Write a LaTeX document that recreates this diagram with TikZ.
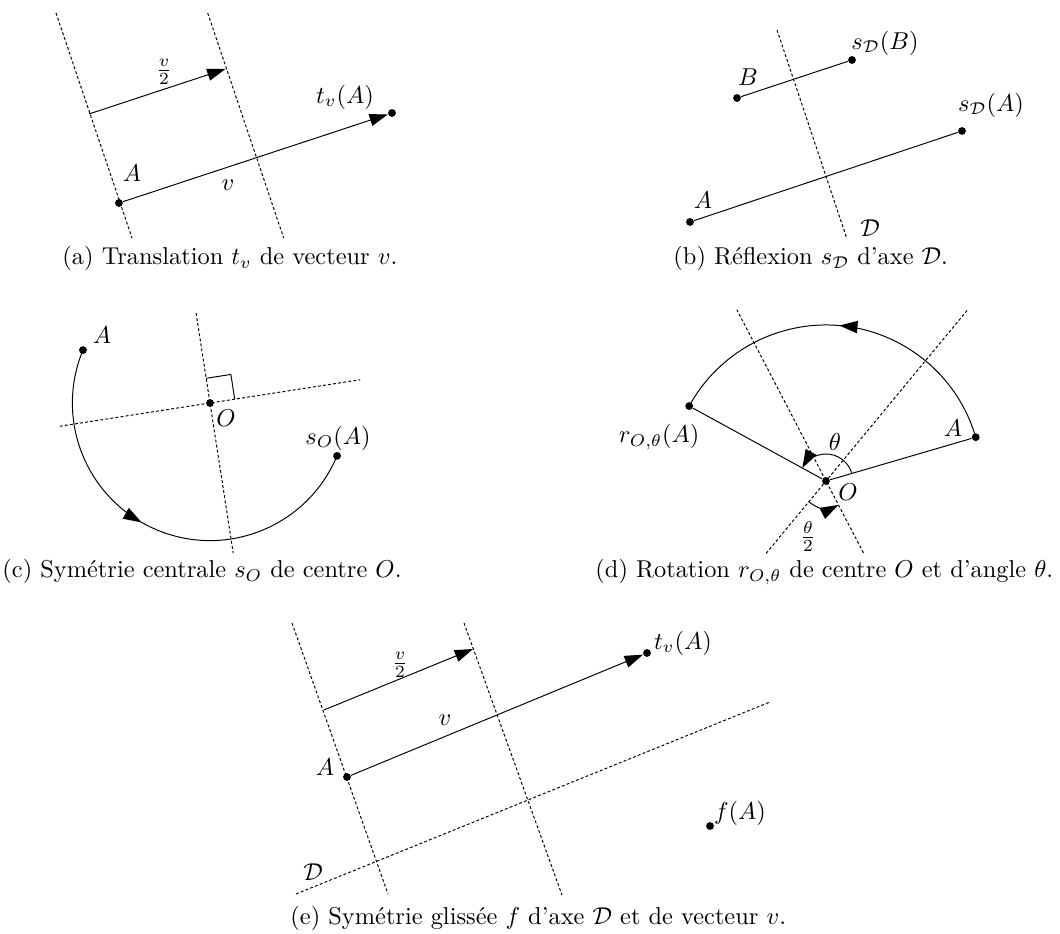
\documentclass[tikz,border=0pt]{standalone}
\usepackage{amsmath,amssymb}
\usepackage{tikz}
\usetikzlibrary{arrows.meta}
\usetikzlibrary{decorations.markings}

\tikzset{
  pnt/.style={circle, fill, inner sep=0pt, minimum size=3.2pt},
  axisline/.style={dash pattern=on 1.2pt off 0.9pt},
  vecarrow/.style={-{Triangle[length=7.5pt,width=5pt]}},
  midarrow/.style={postaction={decorate, decoration={markings,
    mark=at position #1 with {\arrow{Triangle[length=7.5pt,width=5pt]}}}}},
  caption/.style={anchor=base west, inner sep=0pt}
}

\begin{document}
\begin{tikzpicture}[x=0.41pt, y=0.41pt]
\useasboundingbox (0,0) rectangle (1060,934);

% (a)
\node[pnt] (a-A) at (119,731) {};
\node[pnt] (a-tA) at (392,821) {};
\coordinate (a-P) at (89,820);
\coordinate (a-Q) at (225.5,865);
\draw[axisline] (56,921) -- (132,696);
\draw[axisline] (207.7,921) -- (283.7,696);
\draw[vecarrow] (a-A) -- (a-tA);
\draw[vecarrow] (a-P) -- (a-Q);
\node (a-lA) at (132,761) {$A$};
\node (a-lt) at (345,837) {$t_v(A)$};
\node (a-lv) at (228,749) {$v$};
\node (a-lh) at (164,862) {$\frac{v}{2}$};
\node[caption] (a-cap) at (62,669) {(a) Translation $t_v$ de vecteur $v$.};

% (b)
\draw[axisline] (777,904) -- (847,695);
\node[pnt] (b-B) at (737,836) {};
\node[pnt] (b-sB) at (852,874) {};
\node[pnt] (b-A) at (690,712) {};
\node[pnt] (b-sA) at (962,803) {};
\draw (b-B) -- (b-sB);
\draw (b-A) -- (b-sA);
\node (b-lB) at (748,857) {$B$};
\node (b-lsB) at (885,891) {$s_{\mathcal{D}}(B)$};
\node (b-lsA) at (991,829) {$s_{\mathcal{D}}(A)$};
\node (b-lA) at (703,734) {$A$};
\node (b-lD) at (870,706) {$\mathcal{D}$};
\node[caption] (b-cap) at (673,669) {(b) Réflexion $s_{\mathcal{D}}$ d'axe $\mathcal{D}$.};

% (c)
\begin{scope}[shift={(210,531)}]
\node[pnt] (c-O) at (0,0) {};
\node[pnt] (c-A) at (157.4:137.6) {};
\node[pnt] (c-sA) at (-22.6:137.6) {};
\draw[axisline] (188.8:152) -- (8.8:152);
\draw[axisline] (98.8:91) -- (-81.2:152);
\draw (8.8:25) -- ++(98.8:25) -- (98.8:25);
\draw[midarrow=0.46] (c-A.center) arc[start angle=157.4, end angle=337.4, radius=137.6];
\node (c-lA) at (-108,68) {$A$};
\node (c-lO) at (16,-15) {$O$};
\node (c-lsA) at (128,-35) {$s_O(A)$};
\end{scope}
\node[caption] (c-cap) at (2,356) {(c) Symétrie centrale $s_O$ de centre $O$.};

% (d)
\begin{scope}[shift={(826,453)}]
\node[pnt] (d-O) at (0,0) {};
\node[pnt] (d-A) at (16.3:156) {};
\node[pnt] (d-R) at (151.3:156) {};
\draw[axisline] (230.4:94) -- (50.4:222);
\draw[axisline] (297.5:81) -- (117.5:193);
\draw (d-R) -- (d-O) -- (d-A);
\draw[midarrow=0.51] (d-A.center) arc[start angle=16.3, end angle=151.3, radius=156];
\draw[vecarrow] (16.3:27) arc[start angle=16.3, end angle=151.3, radius=27];
\draw[vecarrow] (230.4:27) arc[start angle=230.4, end angle=297.5, radius=27];
\node (d-lA) at (127,53) {$A$};
\node[anchor=east] (d-lR) at (-118,44) {$r_{O,\theta}(A)$};
\node (d-lO) at (22,-11) {$O$};
\node (d-lt) at (9,39) {$\theta$};
\node (d-lh) at (-18,-56) {$\frac{\theta}{2}$};
\end{scope}
\node[caption] (d-cap) at (595,356) {(d) Rotation $r_{O,\theta}$ de centre $O$ et d'angle $\theta$.};

% (e)
\node[pnt] (e-A) at (347,157) {};
\node[pnt] (e-tA) at (647,281) {};
\node[pnt] (e-fA) at (710,108) {};
\coordinate (e-P) at (324,224);
\coordinate (e-Q) at (473,285);
\draw[axisline] (296,40) -- (770,232);
\draw[axisline] (292,311) -- (388,40);
\draw[axisline] (464,311) -- (562,39);
\draw[vecarrow] (e-A) -- (e-tA);
\draw[vecarrow] (e-P) -- (e-Q);
\node (e-lh) at (400,269) {$\frac{v}{2}$};
\node (e-lv) at (445,214) {$v$};
\node (e-lt) at (683,291) {$t_v(A)$};
\node (e-lA) at (325,167) {$A$};
\node (e-lf) at (740,121) {$f(A)$};
\node (e-lD) at (313,62) {$\mathcal{D}$};
\node[caption] (e-cap) at (290,9) {(e) Symétrie glissée $f$ d'axe $\mathcal{D}$ et de vecteur $v$.};
\end{tikzpicture}
\end{document}
